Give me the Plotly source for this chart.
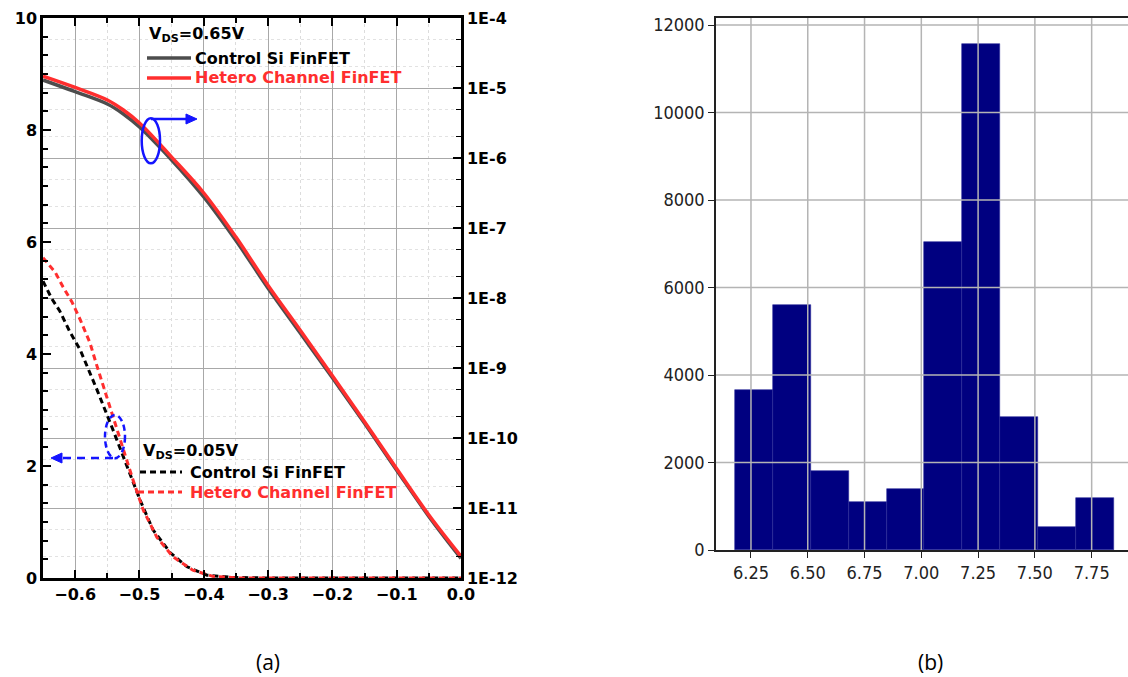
import plotly.graph_objects as go

W, H = 1128, 677

# ---------------- data (panel a) ----------------
# V_DS = 0.65 V  (right log axis, A)
vgs_hi = [-0.65, -0.60, -0.55, -0.525, -0.50, -0.45, -0.40, -0.35, -0.30, -0.25, -0.20, -0.15, -0.10, -0.05, 0.0]
ids_hi_control = [1.30e-5, 8.85e-6, 5.90e-6, 4.25e-6, 2.77e-6, 9.35e-7, 2.77e-7, 6.61e-8, 1.38e-8,
                  3.16e-9, 7.24e-10, 1.62e-10, 3.47e-11, 7.59e-12, 1.91e-12]
ids_hi_hetero = [1.48e-5, 1.02e-5, 6.75e-6, 4.85e-6, 3.16e-6, 1.03e-6, 3.16e-7, 7.41e-8, 1.51e-8,
                 3.47e-9, 7.76e-10, 1.70e-10, 3.63e-11, 7.94e-12, 2.04e-12]

# V_DS = 0.05 V  (left linear axis)
vgs_lo_control = [-0.65, -0.636, -0.624, -0.608, -0.592, -0.566, -0.541, -0.519, -0.499, -0.479,
                  -0.452, -0.426, -0.395, -0.355, -0.30, -0.20, -0.10, 0.0]
ids_lo_control = [5.30, 4.98, 4.77, 4.39, 4.07, 3.36, 2.64, 1.98, 1.39, 0.86,
                  0.45, 0.20, 0.05, 0.01, 0.0, 0.0, 0.0, 0.0]
vgs_lo_hetero = [-0.65, -0.631, -0.619, -0.605, -0.592, -0.577, -0.567, -0.546, -0.526, -0.51,
                 -0.494, -0.473, -0.448, -0.417, -0.386, -0.344, -0.30, -0.20, -0.10, 0.0]
ids_lo_hetero = [5.72, 5.46, 5.20, 4.93, 4.61, 4.20, 3.82, 3.05, 2.34, 1.75,
                 1.21, 0.73, 0.38, 0.14, 0.03, 0.0, 0.0, 0.0, 0.0, 0.0]

right_tick_vals = [1e-12, 1e-11, 1e-10, 1e-9, 1e-8, 1e-7, 1e-6, 1e-5, 1e-4]
right_tick_text = ["1E-12", "1E-11", "1E-10", "1E-9", "1E-8", "1E-7", "1E-6", "1E-5", "1E-4"]

# ---------------- data (panel b) ----------------
hist_bin_start = 6.18
hist_bin_width = 0.1667
hist_counts = [3660, 5610, 1810, 1100, 1400, 7040, 11570, 3050, 530, 1200]
hist_x_ticks = [6.25, 6.50, 6.75, 7.00, 7.25, 7.50, 7.75]
hist_y_ticks = [0, 2000, 4000, 6000, 8000, 10000, 12000]

hist_centers = [hist_bin_start + (i + 0.5) * hist_bin_width for i in range(len(hist_counts))]

# ---------------- helpers ----------------
def px(x):
    return x / W

def py(y):
    return 1 - y / H

def tri(points):
    return "M " + " L ".join(f"{px(a):.5f},{py(b):.5f}" for a, b in points) + " Z"

GREY = "#4d4d4d"
RED = "#ff2e2e"
BLUE = "#1414ff"
BOLD = dict(family="DejaVu Sans", size=16, color="black", weight="bold")
COND = dict(family="DejaVu Sans Condensed, DejaVu Sans", size=18, color="#222")

fig = go.Figure()

# panel (a) curves
fig.add_trace(go.Scatter(x=vgs_hi, y=ids_hi_control, yaxis="y2", mode="lines",
                         line=dict(color=GREY, width=3.5, shape="spline", smoothing=1.0),
                         name="Control Si FinFET (VDS=0.65V)", showlegend=False))
fig.add_trace(go.Scatter(x=vgs_hi, y=ids_hi_hetero, yaxis="y2", mode="lines",
                         line=dict(color=RED, width=3.5, shape="spline", smoothing=1.0),
                         name="Hetero Channel FinFET (VDS=0.65V)", showlegend=False))
fig.add_trace(go.Scatter(x=vgs_lo_control, y=ids_lo_control, yaxis="y", mode="lines",
                         line=dict(color="black", width=3, dash="6px,4px"),
                         name="Control Si FinFET (VDS=0.05V)", showlegend=False))
fig.add_trace(go.Scatter(x=vgs_lo_hetero, y=ids_lo_hetero, yaxis="y", mode="lines",
                         line=dict(color=RED, width=3, dash="6px,4px"),
                         name="Hetero Channel FinFET (VDS=0.05V)", showlegend=False))

# panel (b) histogram bars
fig.add_trace(go.Bar(x=hist_centers, y=hist_counts, width=hist_bin_width, xaxis="x2", yaxis="y3",
                     marker=dict(color="#000080", line=dict(color="#2a2a9a", width=0.6)),
                     showlegend=False))

left_dom_x = [px(43), px(461)]
left_dom_y = [py(578), py(18)]
right_dom_x = [px(716), 1.0]
right_dom_y = [py(550), py(18)]

axis_common = dict(showline=True, linecolor="black", linewidth=2.5, ticks="inside",
                   tickcolor="black", tickwidth=2, ticklen=8, tickfont=BOLD, zeroline=False,
                   automargin=False)

fig.update_layout(
    width=W, height=H, autosize=False,
    margin=dict(l=0, r=0, t=0, b=0, pad=0, autoexpand=False),
    paper_bgcolor="white", plot_bgcolor="white",
    bargap=0,
    xaxis=dict(domain=left_dom_x, range=[-0.65, 0.0], tickmode="linear", tick0=0, dtick=0.1,
               tickformat=".1f", mirror="ticks", anchor="y",
               showgrid=True, gridcolor="#a8a8a8", gridwidth=1,
               minor=dict(tickmode="linear", tick0=0, dtick=0.05, ticks="inside", ticklen=5,
                          tickwidth=1.5, tickcolor="black", showgrid=True,
                          gridcolor="#dcdcdc", griddash="dot", gridwidth=1),
               **axis_common),
    yaxis=dict(domain=left_dom_y, range=[0, 10], tickmode="linear", tick0=0, dtick=2,
               showgrid=False, anchor="x",
               minor=dict(tickmode="linear", tick0=0, dtick=2 / 6, ticks="inside", ticklen=5,
                          tickwidth=1.5, tickcolor="black", showgrid=False),
               **axis_common),
    yaxis2=dict(overlaying="y", side="right", type="log", range=[-12, -4], anchor="x",
                tickmode="array", tickvals=right_tick_vals, ticktext=right_tick_text,
                showgrid=True, gridcolor="#a8a8a8", gridwidth=1,
                minor=dict(ticks="inside", ticklen=5, tickwidth=1, tickcolor="black",
                           showgrid=True, gridcolor="#e2e2e2", griddash="dot", gridwidth=1),
                **axis_common),
    xaxis2=dict(domain=right_dom_x, range=[6.096, 7.91], anchor="y3",
                tickmode="array", tickvals=hist_x_ticks, tickformat=".2f",
                showline=True, linecolor="#222", linewidth=1.5, mirror=True,
                ticks="outside", ticklen=6, tickwidth=1.2, tickcolor="#222",
                tickfont=COND, showgrid=False, zeroline=False, automargin=False),
    yaxis3=dict(domain=right_dom_y, range=[0, 12160], anchor="x2",
                tickmode="array", tickvals=hist_y_ticks, tickformat="d",
                showline=True, linecolor="#222", linewidth=1.5,
                ticks="outside", ticklen=6, tickwidth=1.2, tickcolor="#222",
                tickfont=COND, showgrid=False, zeroline=False, automargin=False),
)

shapes = []
# grid of panel (b), drawn above bars
for v in hist_x_ticks:
    shapes.append(dict(type="line", xref="x2", yref="y3 domain", x0=v, x1=v, y0=0, y1=1,
                       line=dict(color="#b4b4b4", width=1.5), layer="above"))
for v in hist_y_ticks[1:]:
    shapes.append(dict(type="line", xref="x2 domain", yref="y3", x0=0, x1=1, y0=v, y1=v,
                       line=dict(color="#b4b4b4", width=1.5), layer="above"))

# legend samples (panel a)
shapes.append(dict(type="line", xref="paper", yref="paper", x0=px(147), x1=px(191), y0=py(58), y1=py(58),
                   line=dict(color=GREY, width=3.5)))
shapes.append(dict(type="line", xref="paper", yref="paper", x0=px(147), x1=px(191), y0=py(78), y1=py(78),
                   line=dict(color=RED, width=3.5)))
shapes.append(dict(type="line", xref="paper", yref="paper", x0=px(140), x1=px(182), y0=py(472), y1=py(472),
                   line=dict(color="black", width=3, dash="6px,4px")))
shapes.append(dict(type="line", xref="paper", yref="paper", x0=px(138), x1=px(182), y0=py(492), y1=py(492),
                   line=dict(color=RED, width=3, dash="6px,4px")))

# blue markers: ellipses
shapes.append(dict(type="circle", xref="x", yref="y", x0=-0.4965, x1=-0.468, y0=7.405, y1=8.21,
                   line=dict(color=BLUE, width=2.5)))
shapes.append(dict(type="circle", xref="x", yref="y", x0=-0.5536, x1=-0.5225, y0=2.14, y1=2.91,
                   line=dict(color=BLUE, width=2.5, dash="6px,4px")))
# blue arrows (lines + heads)
shapes.append(dict(type="line", xref="paper", yref="paper", x0=px(151), x1=px(188), y0=py(119), y1=py(119),
                   line=dict(color=BLUE, width=2.5)))
shapes.append(dict(type="path", xref="paper", yref="paper", path=tri([(197, 119), (186, 114), (186, 124)]),
                   fillcolor=BLUE, line=dict(color=BLUE, width=1)))
shapes.append(dict(type="line", xref="paper", yref="paper", x0=px(113), x1=px(61), y0=py(458), y1=py(458),
                   line=dict(color=BLUE, width=2.5, dash="8px,6px")))
shapes.append(dict(type="path", xref="paper", yref="paper", path=tri([(51, 458), (62, 453), (62, 463)]),
                   fillcolor=BLUE, line=dict(color=BLUE, width=1)))
fig.update_layout(shapes=shapes)

annotations = [
    dict(xref="paper", yref="paper", x=px(147), y=py(35), xanchor="left", yanchor="middle",
         text="V<sub>DS</sub>=0.65V", showarrow=False, font=BOLD),
    dict(xref="paper", yref="paper", x=px(193), y=py(58), xanchor="left", yanchor="middle",
         text="Control Si FinFET", showarrow=False, font=BOLD),
    dict(xref="paper", yref="paper", x=px(193), y=py(78), xanchor="left", yanchor="middle",
         text="Hetero Channel FinFET", showarrow=False, font=dict(BOLD, color=RED)),
    dict(xref="paper", yref="paper", x=px(141), y=py(451), xanchor="left", yanchor="middle",
         text="V<sub>DS</sub>=0.05V", showarrow=False, font=BOLD),
    dict(xref="paper", yref="paper", x=px(188), y=py(472), xanchor="left", yanchor="middle",
         text="Control Si FinFET", showarrow=False, font=BOLD),
    dict(xref="paper", yref="paper", x=px(188), y=py(492), xanchor="left", yanchor="middle",
         text="Hetero Channel FinFET", showarrow=False, font=dict(BOLD, color=RED)),
    # captions
    dict(xref="paper", yref="paper", x=px(268), y=py(662), xanchor="center", yanchor="middle",
         text="(a)", showarrow=False, font=dict(family="Open Sans, Liberation Sans", size=21, color="black")),
    dict(xref="paper", yref="paper", x=px(930), y=py(662), xanchor="center", yanchor="middle",
         text="(b)", showarrow=False, font=dict(family="Open Sans, Liberation Sans", size=21, color="black")),
]
fig.update_layout(annotations=annotations)

fig.write_html("out.html", config={"displayModeBar": False},
               post_script="document.body.style.margin='0';document.body.style.overflow='hidden';")
